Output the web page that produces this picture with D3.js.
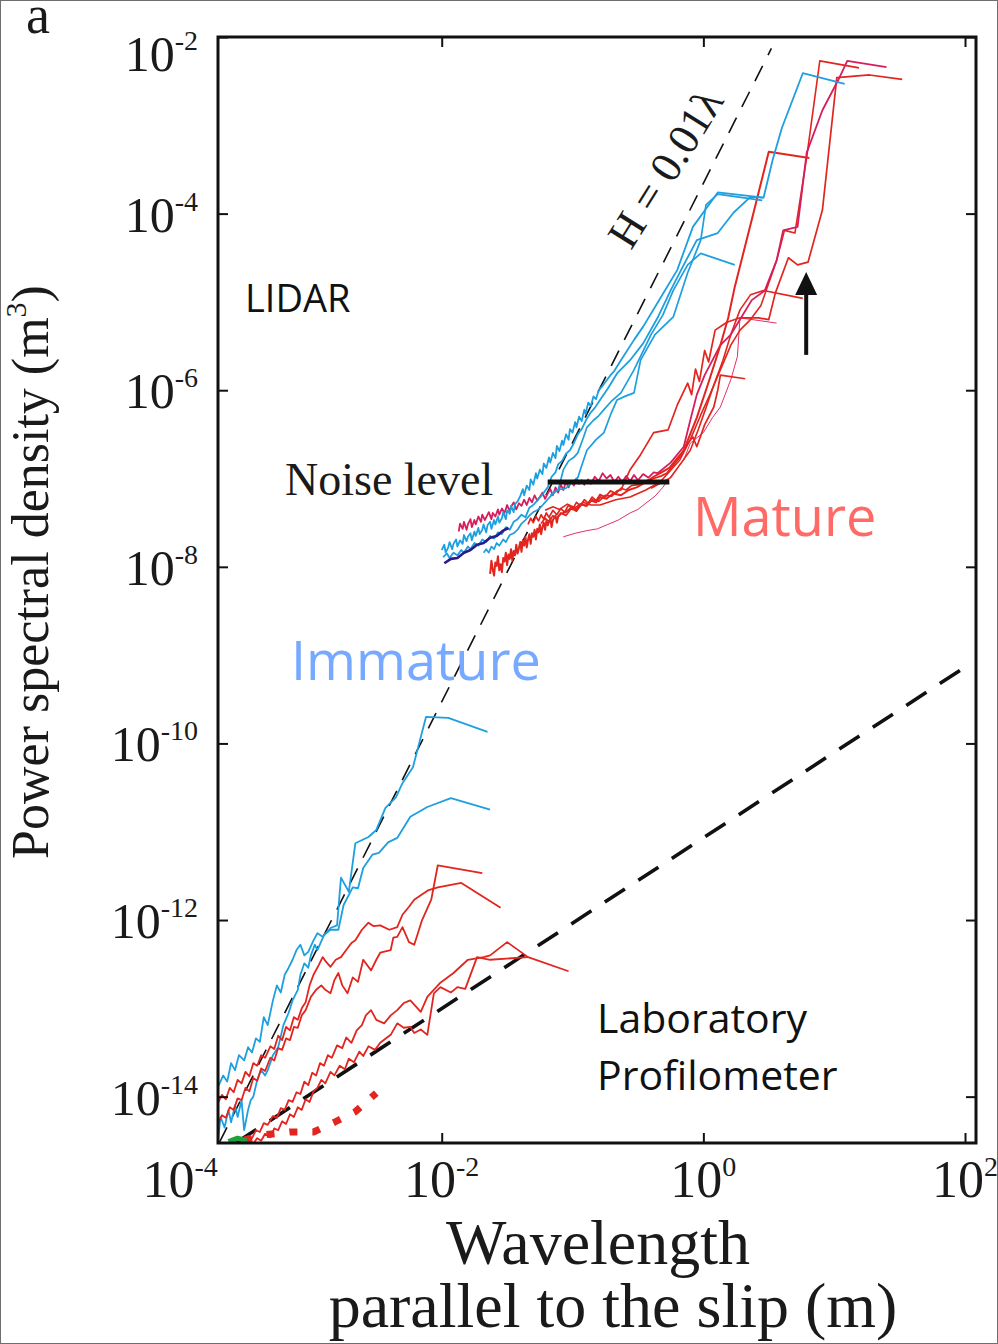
<!DOCTYPE html>
<html>
<head>
<meta charset="utf-8">
<script src="https://cdn.jsdelivr.net/npm/d3@7"></script>
<style>
  body { margin: 0; background: #fff; }
  svg { display: block; }
</style>
</head>
<body>
<div id="chart"></div>
<script>
// all series are [log10 wavelength (m), log10 PSD (m^3)]

// LIDAR, immature faults (blue)
var lidarImm1 = [[-2.00,-7.81],[-1.98,-7.75],[-1.97,-7.84],[-1.95,-7.78],[-1.94,-7.72],[-1.92,-7.80],[-1.91,-7.74],[-1.89,-7.69],[-1.88,-7.77],[-1.86,-7.70],[-1.84,-7.74],[-1.83,-7.64],[-1.81,-7.71],[-1.80,-7.66],[-1.78,-7.62],[-1.77,-7.70],[-1.75,-7.60],[-1.74,-7.65],[-1.72,-7.56],[-1.71,-7.63],[-1.69,-7.58],[-1.68,-7.52],[-1.66,-7.61],[-1.65,-7.53],[-1.63,-7.49],[-1.62,-7.57],[-1.60,-7.47],[-1.59,-7.52],[-1.57,-7.43],[-1.56,-7.50],[-1.54,-7.45],[-1.53,-7.38],[-1.51,-7.46],[-1.50,-7.36],[-1.48,-7.40],[-1.47,-7.31],[-1.45,-7.38],[-1.44,-7.29],[-1.42,-7.26],[-1.40,-7.20],[-1.38,-7.12],[-1.37,-7.19],[-1.35,-7.08],[-1.33,-7.13],[-1.32,-7.01],[-1.30,-7.07],[-1.28,-6.94],[-1.27,-7.00],[-1.25,-6.90],[-1.23,-6.95],[-1.22,-6.83],[-1.20,-6.88],[-1.18,-6.76],[-1.17,-6.82],[-1.15,-6.71],[-1.13,-6.77],[-1.12,-6.63],[-1.10,-6.69],[-1.08,-6.57],[-1.07,-6.62],[-1.05,-6.50],[-1.03,-6.56],[-1.02,-6.44],[-1.00,-6.48],[-0.98,-6.36],[-0.97,-6.42],[-0.95,-6.30],[-0.93,-6.35],[-0.91,-6.22],[-0.90,-6.27],[-0.88,-6.14],[-0.86,-6.18],[-0.84,-6.07],[-0.82,-6.10],[-0.80,-6.00],[-0.77,-5.95],[-0.74,-5.89],[-0.71,-5.83],[-0.68,-5.78],[-0.63,-5.66],[-0.53,-5.43],[-0.46,-5.28],[-0.35,-5.01],[-0.20,-4.64],[-0.08,-4.15],[0.11,-3.76],[0.46,-3.82],[0.53,-3.39],[0.60,-3.03],[0.76,-2.41],[1.08,-2.53]];
var lidarImm2 = [[-1.99,-7.89],[-1.96,-7.85],[-1.94,-7.90],[-1.91,-7.84],[-1.88,-7.87],[-1.85,-7.81],[-1.83,-7.84],[-1.80,-7.77],[-1.78,-7.80],[-1.75,-7.73],[-1.72,-7.76],[-1.69,-7.69],[-1.66,-7.72],[-1.63,-7.65],[-1.60,-7.68],[-1.57,-7.61],[-1.54,-7.63],[-1.51,-7.55],[-1.48,-7.58],[-1.45,-7.49],[-1.42,-7.46],[-1.39,-7.41],[-1.36,-7.44],[-1.33,-7.33],[-1.30,-7.30],[-1.27,-7.25],[-1.24,-7.20],[-1.21,-7.14],[-1.19,-7.10],[-1.16,-6.98],[-1.13,-6.93],[-1.11,-6.84],[-1.08,-6.80],[-1.05,-6.72],[-1.02,-6.68],[-0.99,-6.60],[-0.96,-6.50],[-0.93,-6.44],[-0.89,-6.32],[-0.86,-6.25],[-0.83,-6.20],[-0.79,-6.11],[-0.73,-5.98],[-0.66,-5.81],[-0.56,-5.66],[-0.46,-5.47],[-0.35,-5.18],[-0.25,-4.87],[-0.15,-4.58],[-0.05,-4.30],[0.11,-4.22],[0.23,-3.99],[0.36,-3.81],[0.46,-3.82]];
var lidarImm3 = [[-1.68,-7.84],[-1.66,-7.80],[-1.64,-7.84],[-1.62,-7.77],[-1.60,-7.80],[-1.58,-7.73],[-1.56,-7.76],[-1.53,-7.69],[-1.51,-7.72],[-1.48,-7.64],[-1.45,-7.62],[-1.42,-7.58],[-1.39,-7.51],[-1.36,-7.47],[-1.33,-7.42],[-1.30,-7.38],[-1.27,-7.36],[-1.24,-7.32],[-1.21,-7.27],[-1.18,-7.22],[-1.14,-7.16],[-1.11,-7.13],[-1.07,-6.90],[-1.03,-6.80],[-0.99,-6.76],[-0.96,-6.71],[-0.92,-6.55],[-0.89,-6.42],[-0.84,-6.34],[-0.80,-6.29],[-0.76,-6.22],[-0.70,-6.12],[-0.63,-6.03],[-0.53,-5.77],[-0.40,-5.37],[-0.31,-5.15],[-0.23,-4.87],[-0.12,-4.58],[-0.02,-4.45],[0.24,-4.58]];
var lidarImm4 = [[-1.17,-7.19],[-1.12,-7.13],[-1.05,-7.11],[-1.01,-7.05],[-0.96,-6.99],[-0.92,-6.81],[-0.89,-6.68],[-0.82,-6.56],[-0.76,-6.48],[-0.71,-6.28],[-0.66,-6.11],[-0.60,-6.07],[-0.53,-6.03],[-0.48,-5.66],[-0.37,-5.37],[-0.23,-5.17],[-0.12,-4.67],[-0.02,-4.30],[0.02,-3.90],[0.11,-3.78],[0.45,-3.85]];
var lidarImmNavy = [[-1.98,-7.96],[-1.93,-7.91],[-1.88,-7.90],[-1.83,-7.84],[-1.78,-7.81],[-1.73,-7.75],[-1.68,-7.73],[-1.63,-7.67],[-1.58,-7.65],[-1.53,-7.59],[-1.49,-7.56]];

// LIDAR, mature faults (red / crimson)
var lidarMat1 = [[-1.63,-8.08],[-1.62,-7.93],[-1.61,-8.03],[-1.60,-8.10],[-1.59,-7.95],[-1.58,-7.99],[-1.57,-7.88],[-1.56,-8.04],[-1.55,-7.97],[-1.54,-8.06],[-1.53,-7.90],[-1.52,-7.94],[-1.51,-7.84],[-1.50,-7.98],[-1.49,-7.86],[-1.48,-7.91],[-1.47,-7.80],[-1.46,-7.93],[-1.45,-7.82],[-1.44,-7.87],[-1.43,-7.75],[-1.42,-7.85],[-1.41,-7.79],[-1.40,-7.72],[-1.39,-7.83],[-1.38,-7.70],[-1.37,-7.76],[-1.36,-7.66],[-1.35,-7.78],[-1.34,-7.69],[-1.33,-7.63],[-1.32,-7.74],[-1.31,-7.62],[-1.30,-7.66],[-1.29,-7.58],[-1.28,-7.69],[-1.27,-7.57],[-1.26,-7.61],[-1.25,-7.52],[-1.24,-7.63],[-1.23,-7.55],[-1.22,-7.50],[-1.21,-7.58],[-1.20,-7.48],[-1.19,-7.53],[-1.17,-7.45],[-1.16,-7.55],[-1.15,-7.47],[-1.13,-7.42],[-1.12,-7.50],[-1.11,-7.43],[-1.09,-7.40],[-1.05,-7.38],[-1.01,-7.33],[-0.97,-7.35],[-0.94,-7.29],[-0.90,-7.31],[-0.86,-7.25],[-0.82,-7.27],[-0.79,-7.21],[-0.74,-7.23],[-0.69,-7.17],[-0.63,-7.19],[-0.57,-7.13],[-0.51,-7.10],[-0.45,-7.05],[-0.38,-6.98],[-0.32,-6.93],[-0.26,-6.88],[-0.15,-6.68],[-0.05,-6.31],[0.04,-5.91],[0.13,-5.49],[0.19,-5.18],[0.24,-4.83],[0.37,-4.07],[0.50,-3.30],[0.81,-3.37]];
var lidarMat2 = [[-1.87,-7.60],[-1.86,-7.51],[-1.84,-7.57],[-1.83,-7.49],[-1.81,-7.58],[-1.80,-7.52],[-1.78,-7.46],[-1.77,-7.55],[-1.75,-7.47],[-1.74,-7.52],[-1.72,-7.43],[-1.70,-7.49],[-1.69,-7.41],[-1.67,-7.47],[-1.66,-7.44],[-1.64,-7.38],[-1.62,-7.46],[-1.61,-7.39],[-1.59,-7.43],[-1.57,-7.35],[-1.56,-7.41],[-1.54,-7.34],[-1.52,-7.39],[-1.50,-7.30],[-1.48,-7.37],[-1.47,-7.32],[-1.45,-7.27],[-1.43,-7.35],[-1.41,-7.28],[-1.39,-7.31],[-1.37,-7.24],[-1.35,-7.30],[-1.33,-7.22],[-1.31,-7.27],[-1.29,-7.19],[-1.27,-7.25],[-1.25,-7.21],[-1.23,-7.16],[-1.21,-7.23],[-1.19,-7.17],[-1.17,-7.12],[-1.15,-7.19],[-1.13,-7.10],[-1.11,-7.16],[-1.09,-7.07],[-1.07,-7.13],[-1.05,-7.04],[-1.03,-7.10],[-1.01,-7.03],[-0.99,-7.08],[-0.97,-7.00],[-0.95,-7.06],[-0.93,-7.02],[-0.91,-7.07],[-0.88,-7.01],[-0.86,-7.06],[-0.83,-6.98],[-0.80,-7.03],[-0.77,-6.94],[-0.74,-7.00],[-0.71,-6.96],[-0.68,-7.04],[-0.65,-6.98],[-0.62,-7.04],[-0.59,-6.97],[-0.56,-7.03],[-0.53,-6.96],[-0.50,-7.02],[-0.46,-6.95],[-0.42,-6.99],[-0.38,-6.93],[-0.35,-6.94],[-0.25,-6.82],[-0.15,-6.64],[-0.10,-6.34],[-0.05,-6.05],[0.01,-5.83],[0.07,-5.66],[0.13,-5.49],[0.21,-5.37],[0.28,-5.20],[0.37,-4.98],[0.47,-4.87],[0.56,-4.53],[0.61,-4.19],[0.72,-4.15],[0.79,-3.31],[0.91,-2.83],[1.03,-2.49],[1.10,-2.27],[1.40,-2.34]];
var lidarMat3 = [[-1.34,-7.52],[-1.32,-7.45],[-1.30,-7.50],[-1.28,-7.43],[-1.26,-7.48],[-1.24,-7.41],[-1.22,-7.46],[-1.20,-7.39],[-1.18,-7.44],[-1.15,-7.36],[-1.12,-7.41],[-1.09,-7.34],[-1.06,-7.38],[-1.03,-7.30],[-1.00,-7.35],[-0.97,-7.27],[-0.94,-7.31],[-0.91,-7.24],[-0.88,-7.28],[-0.85,-7.21],[-0.82,-7.25],[-0.79,-7.18],[-0.75,-7.21],[-0.71,-7.14],[-0.67,-7.17],[-0.63,-7.11],[-0.59,-7.13],[-0.55,-7.08],[-0.50,-7.07],[-0.44,-7.03],[-0.38,-7.00],[-0.32,-6.97],[-0.28,-6.94],[-0.18,-6.76],[-0.12,-6.60],[-0.08,-6.53],[-0.05,-6.64],[0.01,-6.39],[0.08,-6.19],[0.11,-6.00],[0.13,-5.83],[0.32,-5.87]];
var lidarMat4 = [[-1.24,-7.51],[-1.21,-7.45],[-1.18,-7.49],[-1.15,-7.42],[-1.12,-7.46],[-1.09,-7.39],[-1.05,-7.42],[-1.01,-7.34],[-0.97,-7.37],[-0.93,-7.29],[-0.89,-7.31],[-0.85,-7.24],[-0.80,-7.26],[-0.75,-7.19],[-0.70,-7.20],[-0.66,-7.14],[-0.63,-7.13],[-0.56,-6.90],[-0.48,-6.73],[-0.38,-6.48],[-0.27,-6.45],[-0.20,-6.17],[-0.12,-5.92],[-0.09,-6.05],[-0.06,-5.76],[-0.03,-5.90],[0.01,-5.55],[0.04,-5.68],[0.09,-5.32],[0.18,-5.23],[0.28,-5.18],[0.42,-5.18],[0.50,-5.20],[0.55,-4.90],[0.65,-4.50],[0.72,-4.58],[0.80,-4.55],[0.91,-3.96],[1.02,-2.46],[1.27,-2.43],[1.52,-2.48]];
var lidarMat5 = [[-1.07,-7.66],[-0.98,-7.62],[-0.89,-7.59],[-0.81,-7.57],[-0.73,-7.52],[-0.65,-7.47],[-0.56,-7.39],[-0.50,-7.35],[-0.44,-7.28],[-0.37,-7.20],[-0.31,-7.10],[-0.23,-6.94],[-0.15,-6.79],[-0.10,-6.60],[0.00,-6.48],[0.07,-6.31],[0.13,-6.19],[0.21,-5.88],[0.26,-5.62],[0.28,-5.18],[0.56,-5.24]];
var lidarMat6 = [[-1.21,-7.36],[-1.15,-7.32],[-1.10,-7.35],[-1.04,-7.29],[-0.98,-7.33],[-0.92,-7.27],[-0.86,-7.30],[-0.79,-7.30],[-0.67,-7.24],[-0.56,-7.21],[-0.44,-7.13],[-0.33,-7.04],[-0.18,-6.79],[-0.10,-6.56],[-0.02,-6.28],[0.05,-6.05],[0.13,-5.77],[0.21,-5.49],[0.28,-5.32],[0.36,-5.20],[0.44,-5.04],[0.56,-4.53],[0.62,-4.19],[0.70,-4.22],[0.79,-3.36],[0.89,-2.27],[1.19,-2.35]];
var lidarMat7 = [[-0.40,-7.11],[-0.25,-6.99],[-0.10,-6.68],[-0.04,-6.45],[0.02,-6.20],[0.08,-5.94],[0.15,-5.66],[0.21,-5.37],[0.28,-5.09],[0.36,-4.92],[0.46,-4.87],[0.76,-4.96]];

// laboratory profilometer
var labImm1 = [[-3.71,-13.89],[-3.67,-13.76],[-3.64,-13.83],[-3.61,-13.62],[-3.58,-13.70],[-3.55,-13.53],[-3.51,-13.59],[-3.48,-13.44],[-3.45,-13.50],[-3.42,-13.34],[-3.39,-13.38],[-3.36,-13.10],[-3.33,-13.19],[-3.29,-12.91],[-3.26,-12.74],[-3.23,-12.82],[-3.20,-12.62],[-3.17,-12.54],[-3.14,-12.45],[-3.11,-12.34],[-3.08,-12.28],[-3.05,-12.40],[-3.02,-12.36],[-2.98,-12.23],[-2.95,-12.15],[-2.91,-12.19],[-2.85,-12.09],[-2.80,-12.06],[-2.77,-11.52],[-2.71,-11.68],[-2.66,-11.13],[-2.56,-11.06],[-2.50,-10.98],[-2.43,-10.73],[-2.35,-10.61],[-2.30,-10.45],[-2.22,-10.27],[-2.12,-9.70],[-1.95,-9.71],[-1.65,-9.87]];
var labImm2 = [[-3.71,-14.49],[-3.69,-14.23],[-3.66,-14.35],[-3.63,-14.15],[-3.61,-14.29],[-3.58,-14.10],[-3.56,-14.23],[-3.53,-14.04],[-3.51,-14.38],[-3.48,-14.15],[-3.46,-14.04],[-3.44,-14.00],[-3.41,-13.81],[-3.38,-13.70],[-3.35,-13.76],[-3.33,-13.70],[-3.29,-13.53],[-3.25,-13.44],[-3.21,-13.19],[-3.17,-13.05],[-3.14,-12.91],[-3.10,-12.79],[-3.08,-12.62],[-3.05,-12.49],[-3.02,-12.54],[-3.00,-12.40],[-2.97,-12.28],[-2.95,-12.34],[-2.90,-12.17],[-2.85,-12.11],[-2.79,-12.11],[-2.75,-11.83],[-2.68,-11.63],[-2.64,-11.64],[-2.60,-11.41],[-2.53,-11.26],[-2.48,-11.24],[-2.41,-11.12],[-2.34,-11.07],[-2.24,-10.83],[-2.11,-10.72],[-1.93,-10.62],[-1.63,-10.75]];
var labMat1 = [[-3.71,-14.30],[-3.68,-14.21],[-3.65,-14.24],[-3.62,-14.12],[-3.59,-14.15],[-3.56,-14.02],[-3.53,-14.04],[-3.50,-13.90],[-3.47,-13.94],[-3.44,-13.79],[-3.41,-13.82],[-3.38,-13.68],[-3.35,-13.71],[-3.31,-13.56],[-3.28,-13.59],[-3.25,-13.45],[-3.22,-13.47],[-3.19,-13.34],[-3.16,-13.36],[-3.13,-13.21],[-3.10,-13.22],[-3.07,-13.08],[-3.04,-13.02],[-3.00,-12.87],[-2.96,-12.79],[-2.92,-12.74],[-2.89,-12.79],[-2.85,-12.83],[-2.82,-12.68],[-2.79,-12.60],[-2.76,-12.74],[-2.72,-12.83],[-2.68,-12.65],[-2.64,-12.70],[-2.60,-12.45],[-2.54,-12.57],[-2.50,-12.45],[-2.47,-12.37],[-2.39,-12.34],[-2.37,-12.20],[-2.34,-12.19],[-2.30,-12.08],[-2.25,-12.25],[-2.21,-12.28],[-2.15,-12.00],[-2.08,-11.77],[-2.03,-11.38],[-1.69,-11.47]];
var labMat2 = [[-3.71,-14.07],[-3.68,-13.98],[-3.65,-14.03],[-3.62,-13.90],[-3.59,-13.95],[-3.56,-13.81],[-3.53,-13.85],[-3.50,-13.72],[-3.47,-13.77],[-3.44,-13.62],[-3.41,-13.65],[-3.38,-13.53],[-3.35,-13.56],[-3.31,-13.43],[-3.28,-13.46],[-3.25,-13.31],[-3.22,-13.36],[-3.19,-13.21],[-3.16,-13.25],[-3.13,-13.10],[-3.10,-13.13],[-3.07,-13.00],[-3.04,-12.93],[-3.01,-12.74],[-2.98,-12.62],[-2.94,-12.51],[-2.91,-12.42],[-2.88,-12.48],[-2.85,-12.53],[-2.81,-12.45],[-2.77,-12.42],[-2.73,-12.34],[-2.69,-12.26],[-2.66,-12.23],[-2.61,-12.11],[-2.56,-12.03],[-2.52,-12.07],[-2.47,-12.06],[-2.40,-12.11],[-2.34,-12.08],[-2.30,-11.94],[-2.25,-11.85],[-2.21,-11.77],[-2.16,-11.72],[-2.10,-11.66],[-2.03,-11.63],[-1.85,-11.58],[-1.55,-11.86]];
var labMat3 = [[-3.51,-14.51],[-3.48,-14.45],[-3.45,-14.47],[-3.42,-14.38],[-3.39,-14.40],[-3.36,-14.30],[-3.33,-14.32],[-3.29,-14.22],[-3.26,-14.24],[-3.23,-14.13],[-3.20,-14.15],[-3.17,-14.04],[-3.14,-14.06],[-3.11,-13.95],[-3.08,-13.97],[-3.05,-13.83],[-3.02,-13.87],[-2.99,-13.73],[-2.96,-13.76],[-2.93,-13.62],[-2.90,-13.65],[-2.87,-13.53],[-2.84,-13.56],[-2.80,-13.42],[-2.76,-13.45],[-2.73,-13.33],[-2.69,-13.39],[-2.65,-13.25],[-2.61,-13.19],[-2.58,-13.08],[-2.54,-13.02],[-2.50,-13.13],[-2.44,-13.17],[-2.39,-13.08],[-2.34,-13.02],[-2.29,-12.94],[-2.24,-12.91],[-2.16,-13.04],[-2.11,-12.87],[-2.01,-12.71],[-1.91,-12.60],[-1.80,-12.45],[-1.68,-12.42],[-1.63,-12.40],[-1.50,-12.25],[-1.34,-12.42],[-1.03,-12.58]];
var labMat4 = [[-3.44,-14.53],[-3.41,-14.47],[-3.38,-14.50],[-3.35,-14.42],[-3.31,-14.46],[-3.28,-14.36],[-3.25,-14.38],[-3.22,-14.28],[-3.19,-14.31],[-3.16,-14.20],[-3.13,-14.23],[-3.10,-14.12],[-3.07,-14.15],[-3.04,-14.03],[-3.01,-14.06],[-2.98,-13.94],[-2.95,-13.90],[-2.92,-13.81],[-2.89,-13.85],[-2.85,-13.72],[-2.82,-13.76],[-2.78,-13.65],[-2.74,-13.69],[-2.71,-13.57],[-2.67,-13.61],[-2.63,-13.49],[-2.60,-13.54],[-2.56,-13.43],[-2.51,-13.47],[-2.47,-13.39],[-2.39,-13.30],[-2.34,-13.17],[-2.29,-13.22],[-2.24,-13.21],[-2.21,-13.28],[-2.16,-13.24],[-2.11,-13.30],[-2.06,-12.83],[-2.01,-12.76],[-1.93,-12.82],[-1.88,-12.76],[-1.82,-12.78],[-1.73,-12.42],[-1.63,-12.45],[-1.34,-12.42]];
var labMatDotted = [[-3.51,-14.49],[-3.34,-14.43],[-3.16,-14.40],[-2.98,-14.40],[-2.82,-14.29],[-2.66,-14.17],[-2.50,-13.96]];
var labGreen = [[-3.63,-14.51],[-3.56,-14.47],[-3.49,-14.50]];

// reference lines
var selfAffineLine = [[-3.70,-14.52],[0.52,-2.13]];   // H = 0.01 lambda
var labTrendLine = [[-3.57,-14.52],[1.985,-9.15]];
var noiseLevel = [[-1.19,-7.04],[-0.26,-7.04]];
var arrowAt = [[0.786,-5.60],[0.786,-4.66]];

var xTicks = [1e-4, 1e-2, 1, 1e2];
var yTicks = [1e-2, 1e-4, 1e-6, 1e-8, 1e-10, 1e-12, 1e-14];

var BLUE = "#1d9fe0", RED = "#e2251f", CRIMSON = "#d81d5c", NAVY = "#2c1a8c";
var SERIF = "'Liberation Serif', 'Times New Roman', serif";
var SANS = "'Open Sans', 'Noto Sans', sans-serif";

var width = 998, height = 1344;
var plotL = 218, plotR = 976, plotT = 37, plotB = 1143;

var svg = d3.select("#chart").append("svg")
    .attr("width", width)
    .attr("height", height);

svg.append("rect")
    .attr("x", 0.5).attr("y", 0.5)
    .attr("width", width - 1).attr("height", height - 1)
    .attr("fill", "#fff").attr("stroke", "#6e6e6e");

var x = d3.scaleLog().domain([Math.pow(10, -3.71), Math.pow(10, 2.084)]).range([plotL, plotR]);
var y = d3.scaleLog().domain([Math.pow(10, -14.525), 1e-2]).range([plotB, plotT]);

function pts(arr) {
    return arr.map(function(d){ return [Math.pow(10, d[0]), Math.pow(10, d[1])]; });
}

var line = d3.line()
    .x(function(d){ return x(d[0]); })
    .y(function(d){ return y(d[1]); });

var plot = svg.append("g");

function draw(arr, color, w, dash) {
    plot.append("path")
        .datum(pts(arr))
        .attr("d", line)
        .attr("fill", "none")
        .attr("stroke", color)
        .attr("stroke-width", w)
        .attr("stroke-linejoin", "round")
        .attr("stroke-dasharray", dash || null);
}

// reference lines first
draw(selfAffineLine, "#111", 1.6, "17,12");
draw(labTrendLine, "#111", 3.6, "24,16");

// LIDAR curves
draw(lidarMat5, "#e0306b", 1.0);
draw(lidarMat7, RED, 1.6);
draw(lidarMat6, RED, 1.6);
draw(lidarMat4, RED, 1.7);
draw(lidarMat3, RED, 1.7);
draw(lidarMat2, CRIMSON, 1.8);
draw(lidarMat1, RED, 2.0);
draw(lidarImm4, BLUE, 1.7);
draw(lidarImm3, BLUE, 1.7);
draw(lidarImm2, BLUE, 1.8);
draw(lidarImm1, BLUE, 1.8);
draw(lidarImmNavy, NAVY, 2.6);

// laboratory curves
draw(labImm1, BLUE, 1.8);
draw(labImm2, BLUE, 1.8);
draw(labMat1, RED, 1.8);
draw(labMat2, RED, 1.8);
draw(labMat3, RED, 1.8);
draw(labMat4, RED, 1.8);
draw(labMatDotted, RED, 7, "8,15");
draw(labGreen, "#1fa03a", 5);

// noise level bar
draw(noiseLevel, "#111", 5);

// arrow
var ax = x(Math.pow(10, arrowAt[0][0]));
var ay0 = y(Math.pow(10, arrowAt[0][1]));
var ay1 = y(Math.pow(10, arrowAt[1][1]));
svg.append("line")
    .attr("x1", ax).attr("x2", ax)
    .attr("y1", ay0).attr("y2", ay1 + 18)
    .attr("stroke", "#111").attr("stroke-width", 4);
svg.append("path")
    .attr("d", "M" + ax + "," + ay1 + " L" + (ax - 11) + "," + (ay1 + 23) + " L" + (ax + 11) + "," + (ay1 + 23) + " Z")
    .attr("fill", "#111");

// frame and ticks
var inside = function(v, s) {
    var r = s.range(), p = s(v);
    return p >= Math.min(r[0], r[1]) - 0.5 && p <= Math.max(r[0], r[1]) + 0.5;
};
var xIn = xTicks.filter(function(v){ return inside(v, x); });

function styleAxis(g) {
    g.select(".domain").remove();
    g.selectAll(".tick line").attr("stroke", "#111").attr("stroke-width", 2);
    g.selectAll(".tick text").remove();
}

svg.append("g").attr("transform", "translate(0," + plotB + ")")
    .call(d3.axisBottom(x).tickValues(xIn).tickSize(-10)).call(styleAxis);
svg.append("g").attr("transform", "translate(0," + plotT + ")")
    .call(d3.axisTop(x).tickValues(xIn).tickSize(-10)).call(styleAxis);
svg.append("g").attr("transform", "translate(" + plotL + ",0)")
    .call(d3.axisLeft(y).tickValues(yTicks).tickSize(-10)).call(styleAxis);
svg.append("g").attr("transform", "translate(" + plotR + ",0)")
    .call(d3.axisRight(y).tickValues(yTicks).tickSize(-10)).call(styleAxis);

svg.append("rect")
    .attr("x", plotL).attr("y", plotT)
    .attr("width", plotR - plotL).attr("height", plotB - plotT)
    .attr("fill", "none").attr("stroke", "#111").attr("stroke-width", 3);

function powerLabel(g, v) {
    var e = Math.round(Math.log10(v));
    g.append("tspan").text("10");
    g.append("tspan").attr("font-size", 28).attr("dy", -21).text(e);
}

xTicks.forEach(function(v){
    var t = svg.append("text")
        .attr("x", x(v)).attr("y", 1197)
        .attr("text-anchor", "middle")
        .attr("font-family", SERIF).attr("font-size", 52).attr("fill", "#1a1a1a");
    powerLabel(t, v);
});
yTicks.forEach(function(v){
    // the top label sits just below the frame corner
    var dy = v === 1e-2 ? 34 : 18;
    var t = svg.append("text")
        .attr("x", 198).attr("y", y(v) + dy)
        .attr("text-anchor", "end")
        .attr("font-family", SERIF).attr("font-size", 50).attr("fill", "#1a1a1a");
    powerLabel(t, v);
});

// titles
svg.append("text").attr("x", 26).attr("y", 33)
    .attr("font-family", SERIF).attr("font-size", 54).attr("fill", "#1a1a1a").text("a");

svg.append("text").attr("x", 598).attr("y", 1264)
    .attr("text-anchor", "middle")
    .attr("font-family", SERIF).attr("font-size", 64).attr("fill", "#1a1a1a")
    .text("Wavelength");
svg.append("text").attr("x", 613).attr("y", 1327)
    .attr("text-anchor", "middle")
    .attr("font-family", SERIF).attr("font-size", 64).attr("fill", "#1a1a1a")
    .text("parallel to the slip (m)");

var yt = svg.append("text")
    .attr("transform", "translate(48,572) rotate(-90)")
    .attr("text-anchor", "middle")
    .attr("font-family", SERIF).attr("font-size", 52).attr("fill", "#1a1a1a");
yt.append("tspan").text("Power spectral density (m");
yt.append("tspan").attr("font-size", 30).attr("dy", -22).text("3");
yt.append("tspan").attr("dy", 22).text(")");

// annotations
svg.append("text").attr("x", 245).attr("y", 312)
    .attr("font-family", SANS).attr("font-size", 38).attr("fill", "#111").text("LIDAR");
svg.append("text").attr("x", 285).attr("y", 495)
    .attr("font-family", SERIF).attr("font-size", 46).attr("fill", "#1a1a1a").text("Noise level");
svg.append("text").attr("x", 693).attr("y", 536)
    .attr("font-family", SANS).attr("font-size", 54).attr("fill", "#ff6a66").text("Mature");
svg.append("text").attr("x", 291).attr("y", 680)
    .attr("font-family", SANS).attr("font-size", 54).attr("fill", "#76a9ff").text("Immature");
svg.append("text").attr("x", 597).attr("y", 1033)
    .attr("font-family", SANS).attr("font-size", 41).attr("fill", "#111").text("Laboratory");
svg.append("text").attr("x", 597).attr("y", 1090)
    .attr("font-family", SANS).attr("font-size", 41).attr("fill", "#111").text("Profilometer");
svg.append("text")
    .attr("transform", "translate(678,176) rotate(-58)")
    .attr("text-anchor", "middle")
    .attr("font-family", SERIF).attr("font-size", 44).attr("fill", "#1a1a1a")
    .text("H = 0.01\u03bb");
</script>
</body>
</html>
